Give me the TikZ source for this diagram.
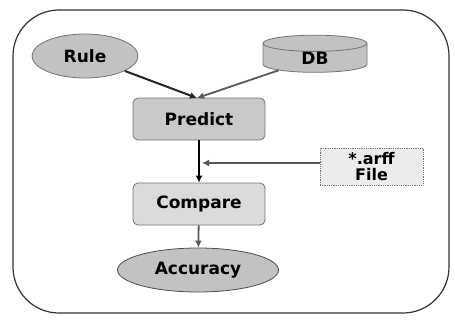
\documentclass[tikz,border=0pt]{standalone}
\usepackage{fontspec}
\setmainfont{DejaVu Sans}
\usetikzlibrary{shapes.geometric,arrows.meta}
\definecolor{fillA}{gray}{0.76}
\definecolor{fillB}{gray}{0.79}
\definecolor{fillC}{gray}{0.86}
\definecolor{fillD}{gray}{0.92}
\definecolor{lineG}{gray}{0.45}
\tikzset{
  lbl/.style={font=\fontsize{17}{19}\selectfont\bfseries, text=black},
  oval/.style={lbl, ellipse, draw=lineG, fill=fillA, line width=0.8pt, inner sep=0pt},
  stepbox/.style={lbl, rectangle, rounded corners=5pt, draw=lineG, line width=0.8pt, inner sep=0pt},
  darrow/.style={line width=2pt, -{Latex[length=7pt,width=7pt]}},
  garrow/.style={line width=1.8pt, draw=gray!70!black, -{Latex[length=7pt,width=7pt]}},
}
\begin{document}
\begin{tikzpicture}[x=1pt,y=-1pt]
\useasboundingbox (0,0) rectangle (455,322);
\node[draw=black!80, line width=1.2pt, rounded corners=46pt, minimum width=436pt, minimum height=303pt, inner sep=0pt] (frame) at (231,161.5) {};
\node[oval, minimum width=106pt, minimum height=44pt] (rule) at (85,56) {Rule};
\node[lbl, cylinder, shape border rotate=90, aspect=0.6, draw=lineG, fill=fillA, line width=0.8pt, minimum width=104pt, minimum height=36pt, inner sep=0pt] (db) at (315,58) {DB};
\node[stepbox, fill=fillB, minimum width=132pt, minimum height=42pt] (predict) at (199,119) {Predict};
\node[stepbox, fill=fillC, minimum width=132pt, minimum height=42pt] (compare) at (199,204) {Compare};
\node[lbl, rectangle, draw=lineG, densely dotted, fill=fillD, line width=0.8pt, minimum width=103pt, minimum height=37pt, align=center, inner sep=0pt, font=\fontsize{16}{16}\selectfont\bfseries] (arff) at (371.5,166.5) {*.arff\\File};
\node[oval, fill=fillA, draw=black!70, minimum width=161pt, minimum height=44pt] (acc) at (198,270) {Accuracy};
\coordinate (tip) at (197,98);
\coordinate (join) at (199,163);
\draw[darrow, black!85] (rule) -- (tip);
\draw[garrow] (db) -- (tip);
\draw[darrow, black] (predict) -- (compare);
\draw[garrow] (arff.west |- join) -- ([xshift=3pt]join);
\draw[garrow] (compare) -- (acc);
\end{tikzpicture}
\end{document}
